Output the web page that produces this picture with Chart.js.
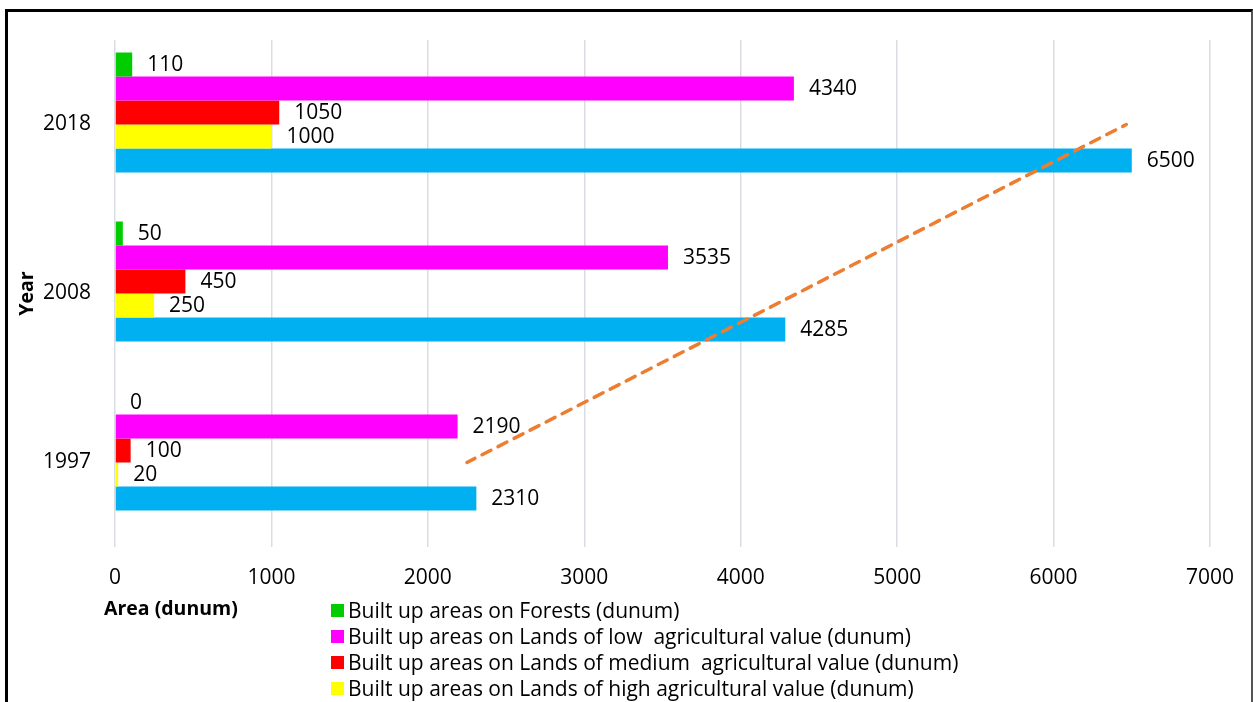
<!DOCTYPE html>
<html>
<head>
<meta charset="utf-8">
<script src="https://cdn.jsdelivr.net/npm/chart.js@4.4.1/dist/chart.umd.min.js"></script>
<style>
  html, body { margin: 0; padding: 0; background: #fff; overflow: hidden; }
  #wrap { position: relative; width: 1253px; height: 702px; overflow: hidden; }
  #frame { position: absolute; left: 5px; top: 9px; width: 1243px; height: 800px;
    border-left: 3px solid #000; border-top: 3px solid #000; border-right: 2px solid #555; }
  #chart { position: absolute; left: 0; top: 0; }
  #xtitle { position: absolute; left: 104px; top: 594px; font: bold 19.5px "Open Sans", sans-serif; color: #000; }
  #legend { position: absolute; left: 331px; top: 597px; font: 21px "Open Sans", sans-serif; color: #000; }
  .item { display: flex; align-items: center; height: 26px; white-space: pre; }
  .box { width: 13px; height: 13px; margin-right: 4px; flex: none; }
</style>
</head>
<body>
<div id="wrap">
  <div id="frame"></div>
  <canvas id="chart" width="1253" height="702"></canvas>
  <div id="xtitle">Area (dunum)</div>
  <div id="legend"></div>
</div>
<script>
// categories, top to bottom
const years = ['2018', '2008', '1997'];
const seriesNames = [
    'Built up areas on Forests (dunum)',
    'Built up areas on Lands of low  agricultural value (dunum)',
    'Built up areas on Lands of medium  agricultural value (dunum)',
    'Built up areas on Lands of high agricultural value (dunum)',
    'Total built up areas (dunum)'
];
const seriesColors = ['#00CC00', '#FF00FF', '#FF0000', '#FFFF00', '#00B0F0'];
const forests = [110, 50, 0];
const lowValue = [4340, 3535, 2190];
const mediumValue = [1050, 450, 100];
const highValue = [1000, 250, 20];
const total = [6500, 4285, 2310];
const trend = [6465, 4360, 2250]; // linear trend of total
const xTicks = [0, 1000, 2000, 3000, 4000, 5000, 6000, 7000];

const values = [forests, lowValue, mediumValue, highValue, total];

const datasets = values.map((v, i) => ({
    type: 'bar',
    label: seriesNames[i],
    data: v,
    backgroundColor: seriesColors[i],
    borderWidth: 0,
    barPercentage: 1.0,
    categoryPercentage: 0.852
}));
// empty slot under the total bar (the chart leaves room for one more series)
datasets.push({ type: 'bar', label: '', data: [null, null, null], backgroundColor: 'rgba(0,0,0,0)',
    barPercentage: 1.0, categoryPercentage: 0.852, spacer: true });
datasets.push({
    type: 'line',
    label: 'Linear (Total)',
    data: trend,
    indexAxis: 'y',
    borderColor: '#ED7D31',
    borderWidth: 3.5,
    borderDash: [10, 8],
    borderDashOffset: 6,
    borderCapStyle: 'round',
    pointRadius: 0,
    fill: false,
    tension: 0,
    order: -1
});

// values at the end of each bar
const barLabels = {
    id: 'barLabels',
    afterDatasetsDraw(chart) {
        const ctx = chart.ctx;
        ctx.save();
        ctx.font = '21px "Open Sans", sans-serif';
        ctx.fillStyle = '#000';
        ctx.textAlign = 'left';
        ctx.textBaseline = 'middle';
        chart.data.datasets.forEach((ds, i) => {
            if (ds.type !== 'bar' || ds.spacer) return;
            chart.getDatasetMeta(i).data.forEach((bar, j) => {
                ctx.fillText(String(ds.data[j]), bar.x + 15, bar.y + 1);
            });
        });
        ctx.restore();
    }
};

new Chart(document.getElementById('chart'), {
    type: 'bar',
    data: { labels: years, datasets: datasets },
    options: {
        indexAxis: 'y',
        responsive: false,
        animation: false,
        layout: { padding: { top: 40, right: 43, bottom: 105, left: 0 } },
        plugins: { legend: { display: false }, tooltip: { enabled: false } },
        scales: {
            x: {
                min: 0, max: 7000,
                afterBuildTicks: s => { s.ticks = xTicks.map(v => ({ value: v })); },
                afterFit: s => { s.height = 50; },
                grid: { color: '#D9DDE3', lineWidth: 1.5, drawTicks: false },
                border: { display: false },
                ticks: { padding: 18, color: '#000', font: { family: 'Open Sans', size: 21 },
                    callback: v => String(v) }
            },
            y: {
                afterFit: s => { s.width = 115; },
                grid: { display: false, drawTicks: false },
                border: { display: false },
                ticks: { padding: 24, color: '#000', font: { family: 'Open Sans', size: 21 } },
                title: { display: true, text: 'Year', color: '#000', padding: { top: 16, bottom: 0 },
                    font: { family: 'Open Sans', size: 19.5, weight: 'bold' } }
            }
        }
    },
    plugins: [barLabels]
});

// legend, stacked one per row; the lower rows run off the page
const legend = document.getElementById('legend');
seriesNames.forEach((name, i) => {
    const row = document.createElement('div');
    row.className = 'item';
    row.innerHTML = `<span class="box" style="background:${seriesColors[i]}"></span><span>${name}</span>`;
    legend.appendChild(row);
});
</script>
</body>
</html>
